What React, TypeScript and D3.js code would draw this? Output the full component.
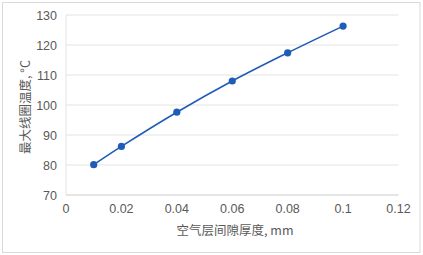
import React from "react";
import * as d3 from "d3";

const gapMm = [0.01, 0.02, 0.04, 0.06, 0.08, 0.1];
const maxTemp = [80.1, 86.2, 97.6, 108.0, 117.4, 126.3];
const xTicks = [0, 0.02, 0.04, 0.06, 0.08, 0.1, 0.12];
const yTicks = [70, 80, 90, 100, 110, 120, 130];

const width = 423;
const height = 255;
const left = 66;
const right = 398.5;
const top = 15;
const bottom = 195;

const App: React.FC = () => {
  const x = d3.scaleLinear().domain([0, 0.12]).range([left, right]);
  const y = d3.scaleLinear().domain([70, 130]).range([bottom, top]);
  const pts = gapMm.map((g, i) => [g, maxTemp[i]] as [number, number]);
  const line = d3
    .line<[number, number]>()
    .x((d) => x(d[0]))
    .y((d) => y(d[1]))
    .curve(d3.curveCatmullRom);
  const font = "Liberation Sans, Arial, sans-serif";
  const text = "#595959";

  return (
    <svg
      width={width}
      height={height}
      style={{ position: "absolute", left: 0, top: 0 }}
    >
      <rect x={0} y={0} width={width} height={height} fill="#fff" />
      <rect
        x={2.5}
        y={2.5}
        width={417.5}
        height={250}
        fill="#fff"
        stroke="#d9d9d9"
      />
      {yTicks.map((t) => (
        <g key={t}>
          <line
            x1={left}
            x2={right}
            y1={y(t)}
            y2={y(t)}
            stroke="#e3e3e3"
            strokeWidth={1}
          />
          <text
            x={57}
            y={y(t) + 4.5}
            textAnchor="end"
            fontFamily={font}
            fontSize={12.5}
            fill={text}
          >
            {t}
          </text>
        </g>
      ))}
      <line x1={left} x2={left} y1={top} y2={bottom} stroke="#e3e3e3" />
      <line x1={left} x2={right} y1={bottom} y2={bottom} stroke="#d9d9d9" />
      {xTicks.map((t) => (
        <text
          key={t}
          x={x(t)}
          y={213}
          textAnchor="middle"
          fontFamily={font}
          fontSize={12.5}
          fill={text}
        >
          {d3.format("~g")(t)}
        </text>
      ))}
      <path d={line(pts) ?? ""} fill="none" stroke="#1f5cb8" strokeWidth={1.6} />
      {pts.map((d, i) => (
        <circle key={i} cx={x(d[0])} cy={y(d[1])} r={3.6} fill="#1f5cb8" />
      ))}
      <text
        x={235}
        y={235}
        textAnchor="middle"
        fontFamily="Noto Sans CJK SC, sans-serif"
        fontSize={12.5}
        fill={text}
      >
        空气层间隙厚度, mm
      </text>
      <text
        transform={`translate(30, 107) rotate(-90)`}
        textAnchor="middle"
        fontFamily="Noto Sans CJK SC, sans-serif"
        fontSize={12.5}
        fill={text}
      >
        最大线圈温度, °C
      </text>
    </svg>
  );
};

export default App;
